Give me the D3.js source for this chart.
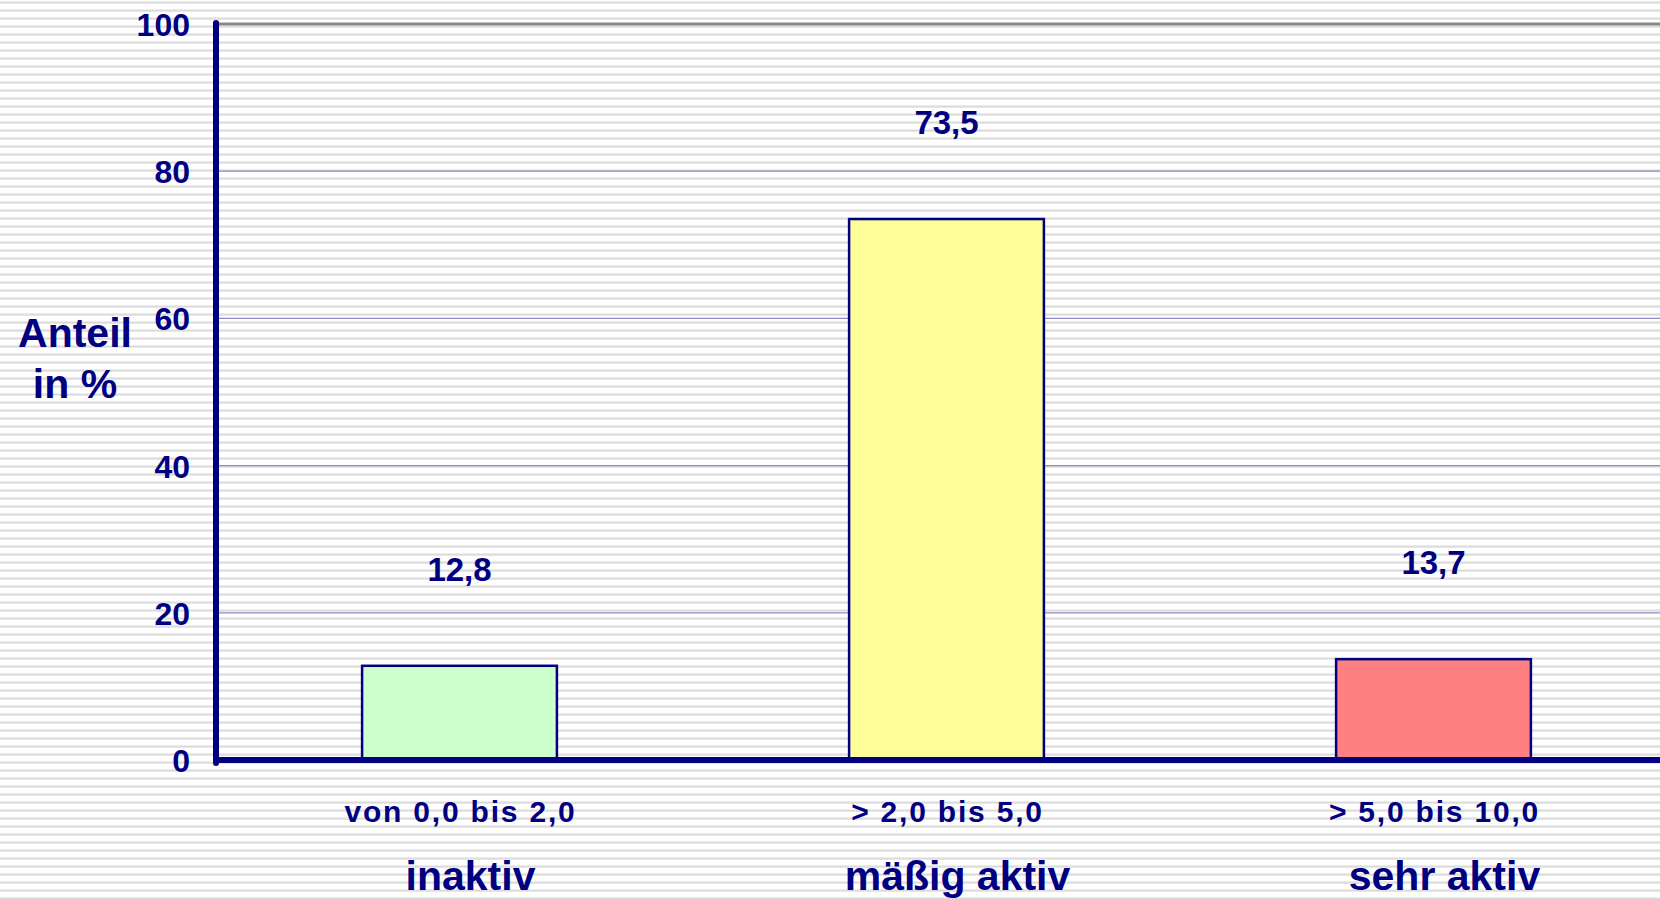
<!DOCTYPE html>
<html>
<head>
<meta charset="utf-8">
<script src="https://cdn.jsdelivr.net/npm/d3@7"></script>
<style>
  html, body { margin: 0; padding: 0; background: #fff; }
  svg { display: block; }
  text { font-family: "Liberation Sans", Arial, sans-serif; font-weight: bold; fill: #000080; }
</style>
</head>
<body>
<div id="wrapper"></div>
<script>
// data
const ranges = ["von 0,0 bis 2,0", "> 2,0 bis 5,0", "> 5,0 bis 10,0"];
const groups = ["inaktiv", "mäßig aktiv", "sehr aktiv"];
const shares = [12.8, 73.5, 13.7];
const shareLabels = ["12,8", "73,5", "13,7"];
const barColors = ["#ccffcc", "#ffff99", "#ff8080"];
const yTicks = [0, 20, 40, 60, 80, 100];

function drawChart() {
  // dimensions
  const dimensions = {
    width: 1660,
    height: 899,
    margin: { top: 24, left: 216, bottom: 139 },
  };
  const baseY = dimensions.height - dimensions.margin.bottom;

  const wrapper = d3.select("#wrapper")
    .append("svg")
    .attr("width", dimensions.width)
    .attr("height", dimensions.height);

  // striped background
  const pattern = wrapper.append("defs").append("pattern")
    .attr("id", "stripes")
    .attr("patternUnits", "userSpaceOnUse")
    .attr("width", 8)
    .attr("height", 8);
  pattern.append("rect").attr("width", 8).attr("height", 8).attr("fill", "#ffffff");
  pattern.append("rect").attr("y", 1).attr("width", 8).attr("height", 1).attr("fill", "#ececec");
  pattern.append("rect").attr("y", 2).attr("width", 8).attr("height", 1).attr("fill", "#dcdcdc");
  pattern.append("rect").attr("y", 3).attr("width", 8).attr("height", 1).attr("fill", "#e6e6e6");
  wrapper.append("rect")
    .attr("width", dimensions.width)
    .attr("height", dimensions.height)
    .attr("fill", "url(#stripes)");

  // scales
  const xScale = d3.scaleBand()
    .domain(ranges)
    .range([dimensions.margin.left, 1677])
    .paddingInner(0.6)
    .paddingOuter(0.3);
  const yScale = d3.scaleLinear()
    .domain([0, 100])
    .range([baseY, dimensions.margin.top]);

  // gridlines
  wrapper.append("g")
    .selectAll("line")
    .data(yTicks.filter(d => d > 0))
    .join("line")
    .attr("x1", dimensions.margin.left)
    .attr("x2", dimensions.width)
    .attr("y1", d => yScale(d))
    .attr("y2", d => yScale(d))
    .attr("stroke", d => d === 100 ? "#888888" : "#8c8cc4")
    .attr("stroke-width", d => d === 100 ? 3 : 1.2);

  // bars
  wrapper.append("g")
    .selectAll("rect")
    .data(shares)
    .join("rect")
    .attr("x", (d, i) => xScale(ranges[i]))
    .attr("y", d => yScale(d))
    .attr("width", xScale.bandwidth())
    .attr("height", d => baseY - yScale(d))
    .attr("fill", (d, i) => barColors[i])
    .attr("stroke", "#000080")
    .attr("stroke-width", 2.5);

  // value labels
  wrapper.append("g")
    .selectAll("text")
    .data(shares)
    .join("text")
    .attr("x", (d, i) => xScale(ranges[i]) + xScale.bandwidth() / 2)
    .attr("y", d => yScale(d) - 85)
    .attr("text-anchor", "middle")
    .style("font-size", "33px")
    .text((d, i) => shareLabels[i]);

  // axes lines
  wrapper.append("line")
    .attr("x1", dimensions.margin.left)
    .attr("x2", dimensions.margin.left)
    .attr("y1", yScale(100) - 1)
    .attr("y2", baseY + 3)
    .attr("stroke", "#000080")
    .attr("stroke-width", 6)
    .attr("stroke-linecap", "round");
  wrapper.append("line")
    .attr("x1", dimensions.margin.left - 3)
    .attr("x2", dimensions.width)
    .attr("y1", baseY)
    .attr("y2", baseY)
    .attr("stroke", "#000080")
    .attr("stroke-width", 6);

  // y tick labels
  const yAxisGenerator = d3.axisLeft(yScale)
    .tickValues(yTicks)
    .tickSize(0)
    .tickPadding(26);
  const yAxis = wrapper.append("g")
    .attr("transform", `translate(${dimensions.margin.left}, 0)`)
    .call(yAxisGenerator);
  yAxis.select(".domain").remove();
  yAxis.selectAll("text")
    .attr("fill", "#000080")
    .attr("dy", "0.36em")
    .style("font-family", "'Liberation Sans', Arial, sans-serif")
    .style("font-weight", "bold")
    .style("font-size", "32px");

  // y axis title
  const yTitle = wrapper.append("text")
    .attr("text-anchor", "middle")
    .style("font-size", "41px");
  yTitle.append("tspan").attr("x", 75).attr("y", 347).text("Anteil");
  yTitle.append("tspan").attr("x", 75).attr("y", 398).text("in %");

  // x category labels
  wrapper.append("g")
    .selectAll("text")
    .data(ranges)
    .join("text")
    .attr("x", d => xScale(d) + xScale.bandwidth() / 2 + 1)
    .attr("y", 822)
    .attr("text-anchor", "middle")
    .style("font-size", "30px")
    .style("letter-spacing", "1.8px")
    .text(d => d);

  wrapper.append("g")
    .selectAll("text")
    .data(groups)
    .join("text")
    .attr("x", (d, i) => xScale(ranges[i]) + xScale.bandwidth() / 2 + 11)
    .attr("y", 890)
    .attr("text-anchor", "middle")
    .style("font-size", "41px")
    .text(d => d);
}
drawChart();
</script>
</body>
</html>
